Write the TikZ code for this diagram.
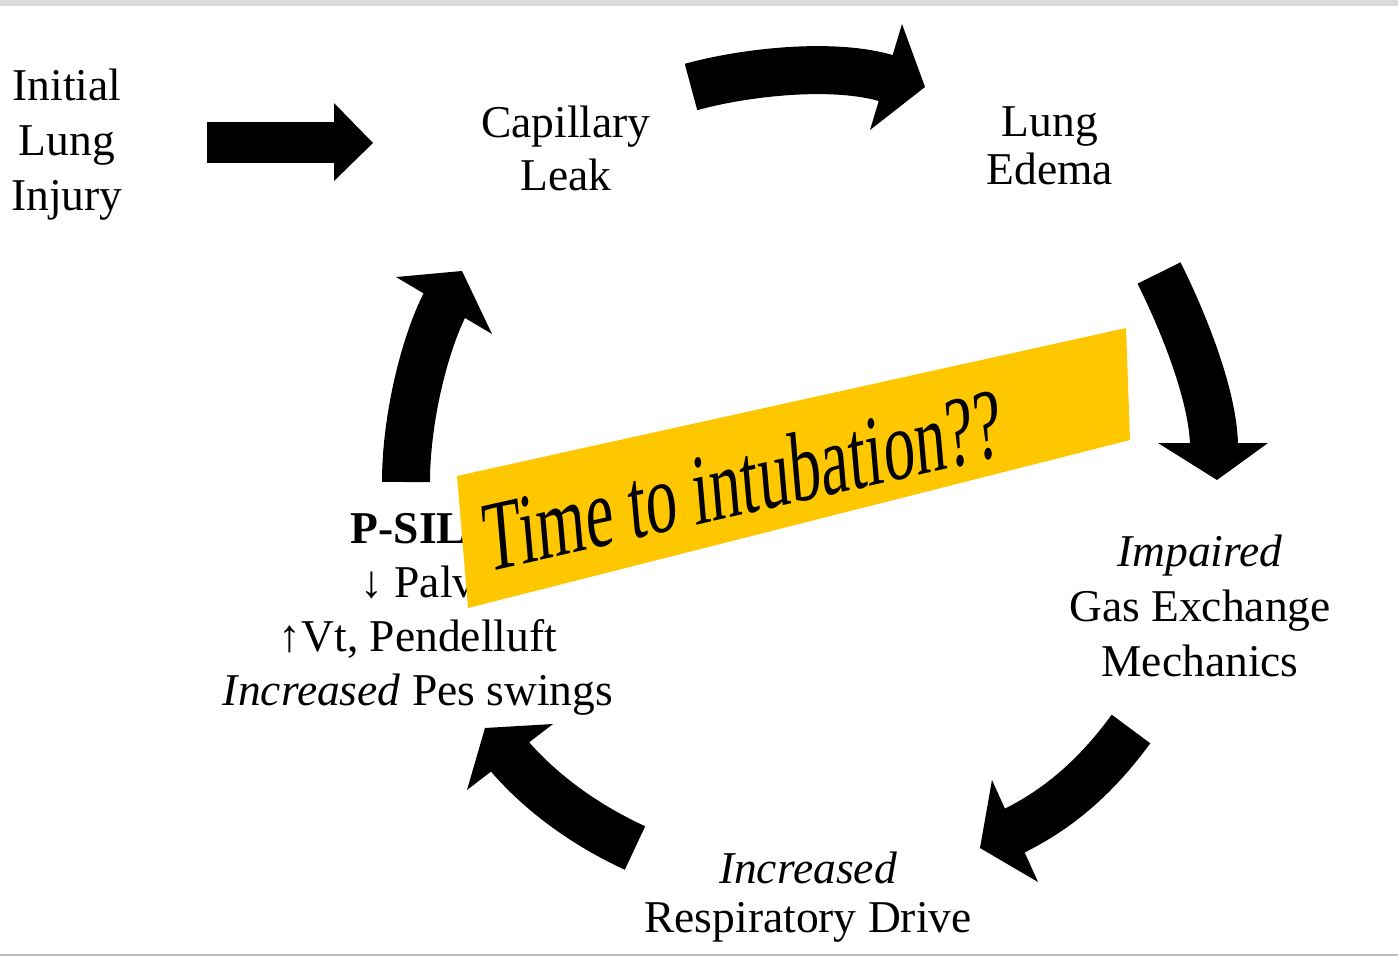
\documentclass[tikz,border=0pt]{standalone}
\usepackage{fontspec}
\setmainfont{Liberation Serif}
\definecolor{bandyellow}{RGB}{255,199,0}
\definecolor{rulegray}{RGB}{217,217,217}
\definecolor{edgegray}{RGB}{190,190,190}

\begin{document}
\begin{tikzpicture}[x=1pt,y=-1pt,
   lbl/.style={align=center, inner sep=0pt, font=\fontsize{45.5}{55}\selectfont},
   bigshaft/.style={line width=48pt},
   bighead/.style={fill=black}]
   \useasboundingbox (0,0) rectangle (1398,956);
   \fill[white]     (0,0)     rectangle (1398,956);
   \fill[rulegray]  (0,0)     rectangle (1398,6);
   \fill[edgegray]  (0,953.5) rectangle (1398,955.5);
   % stages of the cycle
   \node[lbl] (injury) at (67,145)   {Initial\\Lung\\Injury};
   \node[lbl, font=\fontsize{45.5}{53}\selectfont] (leak) at (566,148) {Capillary\\Leak};
   \node[lbl, font=\fontsize{45.5}{48}\selectfont] (edema) at (1050,146) {Lung\\Edema};
   \node[lbl] (gas)    at (1200,606) {\textit{Impaired}\\Gas Exchange\\Mechanics};
   \node[lbl, font=\fontsize{45.5}{49}\selectfont] (drive) at (808,897) {\textit{Increased}\\Respiratory Drive};
   \node[lbl, font=\fontsize{45.5}{54}\selectfont] (psili) at (418,614)
        {\textbf{P-SILI}\\↓ Palv\\↑Vt, Pendelluft\\\textit{Increased} Pes swings};
   % arrow ends
   \coordinate (t1) at (207,142.5);  \coordinate (n1) at (336,142.5);
   \coordinate (t2) at (691,87);     \coordinate (n2) at (889,79);
   \coordinate (t3) at (1159,273);   \coordinate (n3) at (1214,447);
   \coordinate (t4) at (1131,729);   \coordinate (n4) at (1012.4,831.7);
   \coordinate (t5) at (635,848);    \coordinate (n5) at (508.4,755);
   \coordinate (t6) at (406,482);    \coordinate (n6) at (445.8,302.5);
   % block arrows
   \draw[bigshaft, line width=41pt] (t1) -- (n1);
   \fill[bighead] (334,103) -- (373,143) -- (334,181) -- cycle;
   \draw[bigshaft] (t2) .. controls (745,72) and (835,62) .. (n2);
   \fill[bighead] (902,24) -- (925,87) -- (870,130) -- cycle;
   \draw[bigshaft] (t3) .. controls (1186,327) and (1214,400) .. (n3);
   \fill[bighead] (1158,443) -- (1217,480) -- (1268,443) -- cycle;
   \draw[bigshaft] (t4) .. controls (1098,774) and (1061,808) .. (n4);
   \fill[bighead] (992,780) -- (980,848) -- (1038,882) -- cycle;
   \draw[bigshaft] (t5) .. controls (585,825) and (541,793) .. (n5);
   \fill[bighead] (553,724) -- (485,728) -- (467,790) -- cycle;
   \draw[bigshaft] (t6) .. controls (406,420) and (424,345) .. (n6);
   \fill[bighead] (396,277) -- (462,271) -- (492,334) -- cycle;
   % yellow banner
   \coordinate (b1) at (457,476);  \coordinate (b2) at (1126,328);
   \coordinate (b3) at (1130,440); \coordinate (b4) at (468,608);
   \fill[bandyellow] (b1) -- (b2) -- (b3) -- (b4) -- cycle;
   \node[inner sep=0pt, yscale=1.6, rotate=8, font=\fontsize{63}{70}\selectfont]
        (time) at (742,480) {Time to intubation??};
\end{tikzpicture}
\end{document}
